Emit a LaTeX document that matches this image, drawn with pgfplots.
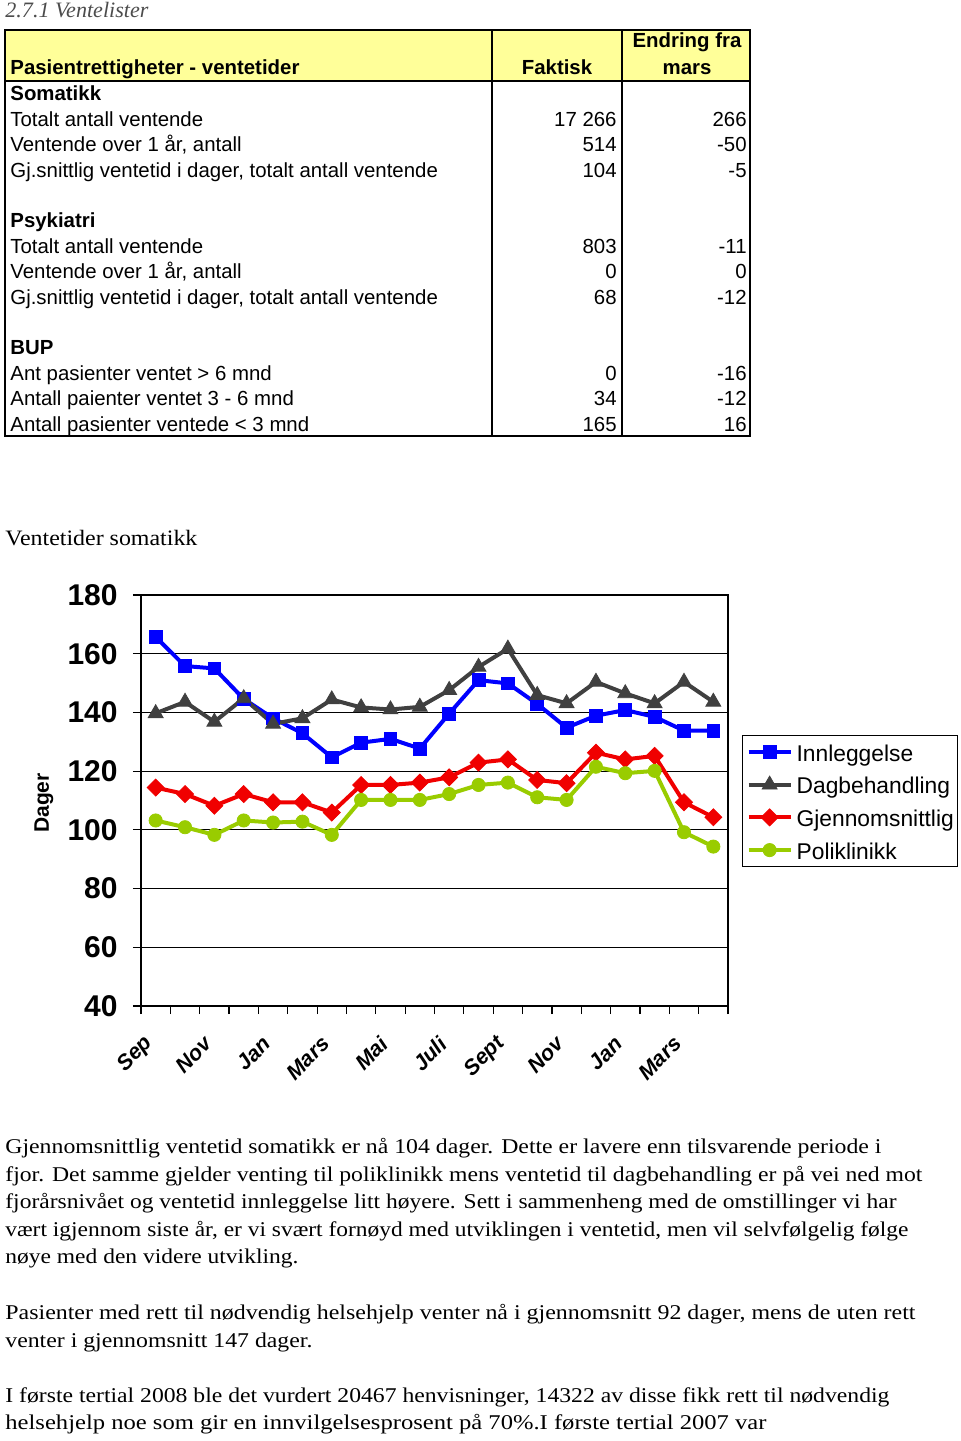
\documentclass[border=0pt]{standalone}
\usepackage{pgfplots}
\pgfplotsset{compat=1.18}
\usepackage{fontspec}
\usepackage{graphicx}
\setmainfont{Liberation Serif}
\newfontfamily\arial{Liberation Sans}
\definecolor{cblue}{RGB}{0,0,255}
\definecolor{cgray}{RGB}{64,64,64}
\definecolor{cred}{RGB}{240,0,0}
\definecolor{cgreen}{RGB}{153,204,0}
\definecolor{hdr}{RGB}{255,255,153}
\newcommand{\tl}[3]{\node[anchor=base west,inner sep=0pt] at (#1) {\resizebox{#2}{\height}{#3}};}
\begin{document}
\begin{tikzpicture}
\begin{scope}[x=0.5pt,y=-0.5pt]
% title
\node[anchor=base west,inner sep=0pt,text=black!70] at (5,17) {\resizebox{71.5pt}{\height}{\fontsize{11}{13}\selectfont\itshape 2.7.1 Ventelister}};
% table
\fill[hdr] (5,30) rectangle (750,81);
\draw[line width=1pt] (5,30) rectangle (750,436);
\draw[line width=1pt] (5,81) -- (750,81);
\draw[line width=1pt] (492,30) -- (492,436);
\draw[line width=1pt] (622,30) -- (622,436);
\begin{scope}[every node/.style={inner sep=0pt,font=\arial\fontsize{10.2}{12}\selectfont}]
\node[anchor=base west] at (10,74) {\bfseries Pasientrettigheter - ventetider};
\node[anchor=base] at (557,74) {\bfseries Faktisk};
\node[anchor=base] at (687,47) {\bfseries Endring fra};
\node[anchor=base] at (687,74) {\bfseries mars};
\node[anchor=base west] at (10,100) {\bfseries Somatikk};
\node[anchor=base west] at (10,126) {Totalt antall ventende};
\node[anchor=base west] at (10,151) {Ventende over 1 år, antall};
\node[anchor=base west] at (10,177) {Gj.snittlig ventetid i dager, totalt antall ventende};
\node[anchor=base west] at (10,227) {\bfseries Psykiatri};
\node[anchor=base west] at (10,253) {Totalt antall ventende};
\node[anchor=base west] at (10,278) {Ventende over 1 år, antall};
\node[anchor=base west] at (10,304) {Gj.snittlig ventetid i dager, totalt antall ventende};
\node[anchor=base west] at (10,354) {\bfseries BUP};
\node[anchor=base west] at (10,380) {Ant pasienter ventet > 6 mnd};
\node[anchor=base west] at (10,405) {Antall paienter ventet 3 - 6 mnd};
\node[anchor=base west] at (10,431) {Antall pasienter ventede < 3 mnd};
\node[anchor=base east] at (617,126) {17 266};
\node[anchor=base east] at (617,151) {514};
\node[anchor=base east] at (617,177) {104};
\node[anchor=base east] at (617,253) {803};
\node[anchor=base east] at (617,278) {0};
\node[anchor=base east] at (617,304) {68};
\node[anchor=base east] at (617,380) {0};
\node[anchor=base east] at (617,405) {34};
\node[anchor=base east] at (617,431) {165};
\node[anchor=base east] at (747,126) {266};
\node[anchor=base east] at (747,151) {-50};
\node[anchor=base east] at (747,177) {-5};
\node[anchor=base east] at (747,253) {-11};
\node[anchor=base east] at (747,278) {0};
\node[anchor=base east] at (747,304) {-12};
\node[anchor=base east] at (747,380) {-16};
\node[anchor=base east] at (747,405) {-12};
\node[anchor=base east] at (747,431) {16};
\end{scope}
% chart title
\node[anchor=base west,inner sep=0pt] at (5,545) {\resizebox{96pt}{\height}{\fontsize{11}{13}\selectfont Ventetider somatikk}};
% body text
\begin{scope}[every node/.append style={font=\fontsize{10.5}{12}\selectfont}]
\tl{5,1153}{438pt}{Gjennomsnittlig ventetid somatikk er nå 104 dager. Dette er lavere enn tilsvarende periode i}
\tl{5,1181}{458.5pt}{fjor. Det samme gjelder venting til poliklinikk mens ventetid til dagbehandling er på vei ned mot}
\tl{5,1208}{445.5pt}{fjorårsnivået og ventetid innleggelse litt høyere. Sett i sammenheng med de omstillinger vi har}
\tl{5,1236}{451.5pt}{vært igjennom siste år, er vi svært fornøyd med utviklingen i ventetid, men vil selvfølgelig følge}
\tl{5,1263}{146.5pt}{nøye med den videre utvikling.}
\tl{5,1319}{455pt}{Pasienter med rett til nødvendig helsehjelp venter nå i gjennomsnitt 92 dager, mens de uten rett}
\tl{5,1347}{153.5pt}{venter i gjennomsnitt 147 dager.}
\tl{5,1402}{442pt}{I første tertial 2008 ble det vurdert 20467 henvisninger, 14322 av disse fikk rett til nødvendig}
\tl{5,1429}{380.5pt}{helsehjelp noe som gir en innvilgelsesprosent på 70\%.I første tertial 2007 var}
\end{scope}
\end{scope}

\begin{axis}[
  at={(70.5pt,-503pt)}, anchor=south west,
  scale only axis, width=293.5pt, height=205.5pt,
  xmin=0, xmax=20, ymin=40, ymax=180,
  xtick={0,...,20}, xticklabels={},
  extra x ticks={0.5,2.5,...,18.5},
  extra x tick labels={Sep,Nov,Jan,Mars,Mai,Juli,Sept,Nov,Jan,Mars},
  extra x tick style={tick style={draw=none}},
  xticklabel style={font=\arial\bfseries\itshape\fontsize{10.8}{12}\selectfont, xshift=-3pt, yshift=-13pt, rotate=45, anchor=east, inner sep=0pt},
  ytick={40,60,...,180},
  yticklabel style={font=\arial\bfseries\fontsize{15}{15}\selectfont, anchor=east, inner sep=0pt, xshift=-7.5pt},
  /pgf/number format/assume math mode=true,
  tick align=outside, tick pos=left,
  major tick length=4pt,
  ymajorgrids, grid style={black, line width=0.5pt},
  axis line style={black, line width=0.6pt},
  tick style={black, line width=0.6pt},
  ylabel={Dager},
  ylabel style={at={(axis description cs:-0.1655,0.494)}, anchor=center, font=\arial\bfseries\fontsize{10.5}{12}\selectfont},
  legend style={at={(1.0239,0.6594)}, anchor=north west, draw=black, line width=0.6pt,
    font=\arial\fontsize{11.4}{13}\selectfont, inner xsep=2pt, inner ysep=2.2pt,
    nodes={inner sep=0pt, text height=10.5pt, text depth=1.5pt}, row sep=4.35pt, column sep=2pt},
  legend cell align=left,
  legend image code/.code={\draw[mark repeat=2,mark phase=2] plot coordinates {(0pt,0pt) (10.5pt,0pt) (21pt,0pt)};},
]
\addplot[cblue, line width=2pt, mark=square*, mark size=3.2pt, mark options={line width=0.4pt}] coordinates {
(0.5,165.7) (1.5,155.8) (2.5,155.0) (3.5,144.6) (4.5,138.0) (5.5,132.9) (6.5,124.7) (7.5,129.7) (8.5,131.0) (9.5,127.7)
(10.5,139.6) (11.5,151.0) (12.5,149.9) (13.5,142.9) (14.5,134.8) (15.5,138.9) (16.5,140.8) (17.5,138.5) (18.5,133.8) (19.5,133.8)};
\addlegendentry{Innleggelse}
\addplot[cgray, line width=2pt, mark=triangle*, mark size=4.3pt, mark options={line width=0.4pt}] coordinates {
(0.5,139.7) (1.5,143.6) (2.5,136.8) (3.5,144.8) (4.5,136.1) (5.5,138.0) (6.5,144.4) (7.5,141.7) (8.5,141.0) (9.5,141.9)
(10.5,147.6) (11.5,155.5) (12.5,161.7) (13.5,145.9) (14.5,143.1) (15.5,150.4) (16.5,146.5) (17.5,143.1) (18.5,150.4) (19.5,143.6)};
\addlegendentry{Dagbehandling}
\addplot[cred, line width=2pt, mark=square*, mark size=3pt, mark options={rotate=45, line width=0.4pt}] coordinates {
(0.5,114.4) (1.5,112.2) (2.5,108.2) (3.5,112.2) (4.5,109.4) (5.5,109.4) (6.5,105.9) (7.5,115.3) (8.5,115.3) (9.5,116.1)
(10.5,117.9) (11.5,122.9) (12.5,124.0) (13.5,117.0) (14.5,115.9) (15.5,126.3) (16.5,124.0) (17.5,125.2) (18.5,109.4) (19.5,104.3)};
\addlegendentry{Gjennomsnittlig}
\addplot[cgreen, line width=2pt, mark=*, mark size=3.3pt, mark options={line width=0.4pt}] coordinates {
(0.5,103.2) (1.5,100.9) (2.5,98.3) (3.5,103.2) (4.5,102.5) (5.5,102.8) (6.5,98.3) (7.5,110.2) (8.5,110.2) (9.5,110.2)
(10.5,112.2) (11.5,115.3) (12.5,116.1) (13.5,111.1) (14.5,110.2) (15.5,121.5) (16.5,119.3) (17.5,120.1) (18.5,99.2) (19.5,94.3)};
\addlegendentry{Poliklinikk}
\end{axis}
\pgfresetboundingbox
\useasboundingbox (0pt,0pt) rectangle (480pt,-720.5pt);
\end{tikzpicture}
\end{document}
